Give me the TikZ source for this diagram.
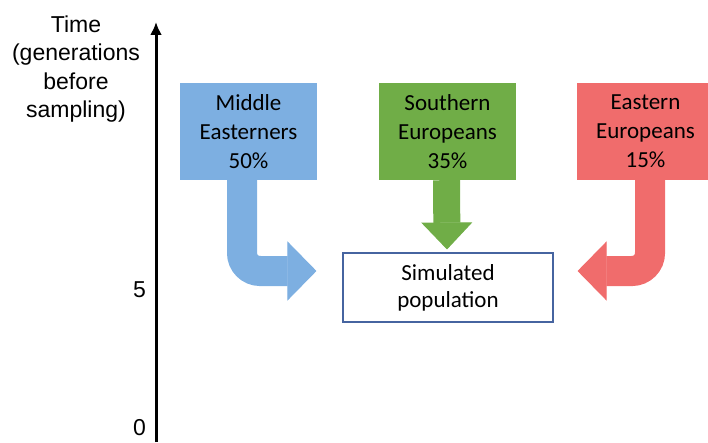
\documentclass[tikz,border=0pt]{standalone}
\usepackage{fontspec}
\setmainfont{Carlito}
\newfontfamily\axisfont{Liberation Sans}
\usepackage{tikz}
\usetikzlibrary{calc}
\usetikzlibrary{positioning}
\usetikzlibrary{arrows.meta}

\definecolor{mecol}{RGB}{125,175,225}
\definecolor{secol}{RGB}{112,173,71}
\definecolor{eecol}{RGB}{240,108,108}
\definecolor{simcol}{RGB}{70,100,160}

\begin{document}
\begin{tikzpicture}[x=1pt, y=1pt,
        popbox/.style={rectangle, minimum width=137pt, minimum height=97pt, align=center,
            font=\fontsize{23}{29}\selectfont},
        simbox/.style={rectangle, draw=simcol, line width=1.1pt, fill=white, minimum width=210pt,
            minimum height=69pt, align=center, font=\fontsize{23}{27}\selectfont},
        bent/.style={line width=30pt, rounded corners=18pt,
            -{Triangle[length=29pt, width=59pt, line width=1pt]}},
        axislabel/.style={font=\axisfont\fontsize{23}{28.5}\selectfont, align=center, inner sep=0pt}]
            \clip (0, 0) rectangle (708, 442);
            % time axis
            \coordinate (tbot) at (156, 0);
            \coordinate (ttop) at (156, 420);
            \draw[line width=3pt, -{Latex[length=13pt, width=12pt]}] (tbot) -- (ttop);
            \node[axislabel] (tlabel) at (76, 373) {Time\\(generations\\before\\sampling)};
            \node[axislabel, anchor=east] (tfive) at (146, 152) {5};
            \node[axislabel, anchor=east] (tzero) at (146, 14) {0};
            % source populations
            \node[popbox, fill=mecol] (me) at (248.5, 310.5) {Middle\\Easterners\\50\%};
            \node[popbox, fill=secol] (se) at (447.5, 310.5) {Southern\\Europeans\\35\%};
            \node[popbox, fill=eecol] (ee) at (645.5, 310.5) {Eastern\\Europeans\\15\%};
            \node[simbox] (sim) at (448, 154.5) {Simulated\\population};
            % admixture arrows
            \draw[bent, mecol] ([xshift=-6.5pt]me.south) |- ([xshift=-26pt, yshift=16.5pt]sim.west);
            \draw[line width=27pt, secol, -{Triangle[length=27pt, width=51pt, line width=1pt]}]
                ([xshift=-1pt]se.south) -- ([xshift=-1pt, yshift=3pt]sim.north);
            \draw[bent, eecol] ([xshift=4.5pt]ee.south) |- ([xshift=24pt, yshift=16.5pt]sim.east);
        \end{tikzpicture}
\end{document}
